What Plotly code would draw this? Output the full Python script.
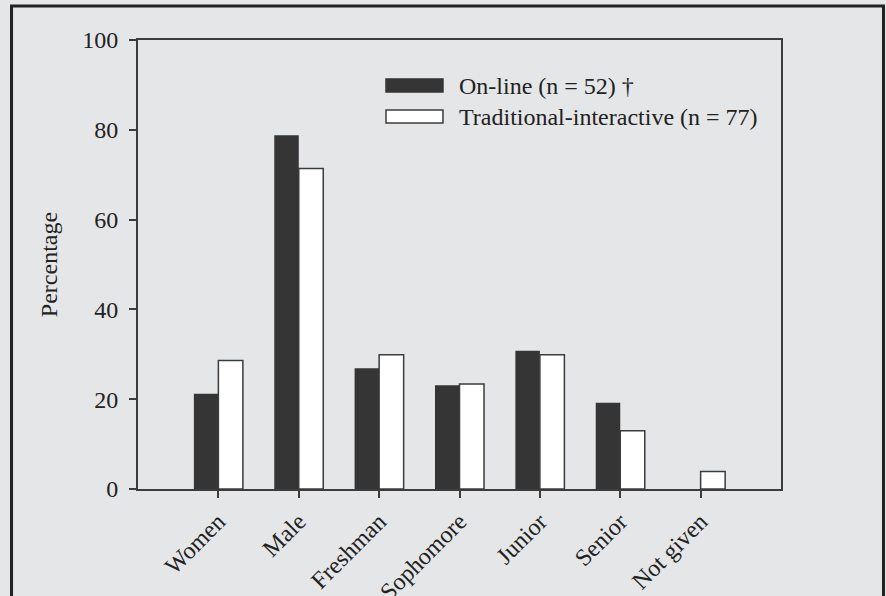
import plotly.graph_objects as go

categories = ["Women", "Male", "Freshman", "Sophomore", "Junior", "Senior", "Not given"]
online = [21.2, 78.8, 26.9, 23.1, 30.8, 19.2, 0]
traditional = [28.6, 71.4, 29.9, 23.4, 29.9, 13.0, 3.9]
series_names = ["On-line (n = 52) \u2020", "Traditional-interactive (n = 77)"]
y_ticks = [0, 20, 40, 60, 80, 100]

BG = "#e5e6e8"
DARK = "#353535"
LINE = "#3c3c3c"
TXT = "#222222"
FONT = "Liberation Serif"

fig = go.Figure()
fig.add_trace(go.Bar(x=categories, y=online, name=series_names[0],
                     marker=dict(color=DARK, line=dict(width=0)),
                     showlegend=False))
fig.add_trace(go.Bar(x=categories, y=traditional, name=series_names[1],
                     marker=dict(color="#ffffff", line=dict(color=LINE, width=1.5)),
                     showlegend=False))

# Manual legend (swatches + labels)
legend_rows = [(0.9131, 0.8842, DARK, DARK), (0.8441, 0.8151, "#ffffff", LINE)]
for (y0, y1, fill, lc), name in zip(legend_rows, series_names):
    fig.add_shape(type="rect", xref="paper", yref="paper",
                  x0=0.3857, x1=0.4743, y0=y1, y1=y0,
                  fillcolor=fill, line=dict(color=lc, width=1.5))
    fig.add_annotation(xref="paper", yref="paper", x=0.4961, y=(y0 + y1) / 2,
                       text=name, showarrow=False, xanchor="left", yanchor="middle",
                       font=dict(family=FONT, size=24, color=TXT))

# Outer frame
fig.add_shape(type="rect", xref="paper", yref="paper",
              x0=-0.1967, x1=1.1594, y0=-0.26, y1=1.0757,
              line=dict(color="#222222", width=3), fillcolor="rgba(0,0,0,0)")

fig.update_layout(
    width=886, height=596,
    margin=dict(l=138, r=105, t=40, b=107, autoexpand=False),
    paper_bgcolor=BG, plot_bgcolor=BG,
    barmode="group", bargap=0.39, bargroupgap=0,
    font=dict(family=FONT, size=24, color=TXT),
    xaxis=dict(range=[-1, 7], showgrid=False, zeroline=False, automargin=False,
               showline=True, linecolor=LINE, linewidth=2, mirror=True,
               ticks="outside", ticklen=7, tickcolor=LINE, tickwidth=1.5,
               tickangle=-45, tickfont=dict(family=FONT, size=24, color=TXT)),
    yaxis=dict(range=[0, 100], tickvals=y_ticks, showgrid=False, zeroline=False,
               automargin=False,
               showline=True, linecolor=LINE, linewidth=2, mirror=True,
               ticks="outside", ticklen=7, tickcolor=LINE, tickwidth=1.5,
               ticklabelstandoff=6,
               tickfont=dict(family=FONT, size=24, color=TXT),
               title=dict(text="Percentage", standoff=18,
                          font=dict(family=FONT, size=24, color=TXT))),
)

fig.write_html("out.html", config={"displayModeBar": False},
               post_script="document.body.style.margin='0';document.body.style.overflow='hidden';")
